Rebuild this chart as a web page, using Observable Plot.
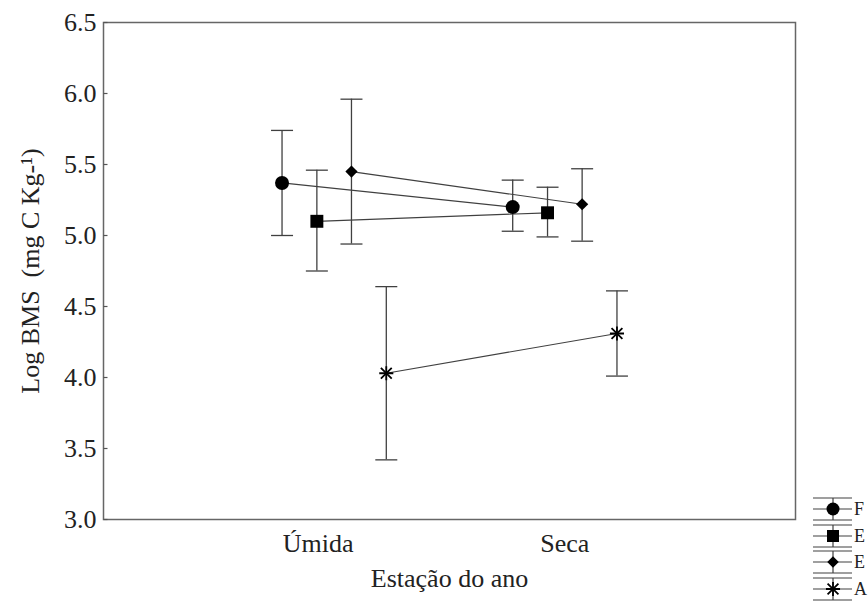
<!DOCTYPE html>
<html>
<head>
<meta charset="utf-8">
<script src="https://cdn.jsdelivr.net/npm/d3@7"></script>
<script src="https://cdn.jsdelivr.net/npm/@observablehq/plot@0.6"></script>
<style>
  html, body { margin: 0; padding: 0; background: #fff; overflow: hidden; }
  svg, svg text, svg g { font-family: "Liberation Serif", Tinos, "DejaVu Serif", serif !important; }
</style>
</head>
<body>
<div id="chart"></div>
<script>
// ---- data ----
const seasons = ["Úmida", "Seca"];
const seasonPos = [1, 2];
const seriesNames = ["F", "E", "E", "A"];
const seriesSymbols = ["circle", "square", "diamond", "asterisk"];
const dodge = [-0.226, -0.075, 0.075, 0.226];
const means = [[5.37, 5.20], [5.10, 5.16], [5.45, 5.22], [4.03, 4.31]];
const upper = [[5.74, 5.39], [5.46, 5.34], [5.96, 5.47], [4.64, 4.61]];
const lower = [[5.00, 5.03], [4.75, 4.99], [4.94, 4.96], [3.42, 4.01]];
const yTicks = [3.0, 3.5, 4.0, 4.5, 5.0, 5.5, 6.0, 6.5];
const xTitle = "Estação do ano";
const yTitle = "Log BMS  (mg C Kg-¹)";

const rows = [];
seriesNames.forEach((name, s) => {
  seasons.forEach((season, j) => {
    rows.push({series: s, name, season, x: seasonPos[j] + dodge[s],
      mean: means[s][j], lo: lower[s][j], hi: upper[s][j]});
  });
});

const lineColor = "#404040";
const capSymbol = {draw(ctx) { ctx.moveTo(-11, 0); ctx.lineTo(11, 0); }};
const tickSymbol = {draw(ctx) { ctx.moveTo(0, 0); ctx.lineTo(4, 0); }};
const bySeries = s => rows.filter(d => d.series === s);

const font = "'Liberation Serif', Tinos, 'DejaVu Serif', serif";
const txt = {fontFamily: font, fontSize: 26, fill: "#222"};

const chart = Plot.plot({
  width: 868,
  height: 601,
  marginLeft: 103,
  marginRight: 73,
  marginTop: 22,
  marginBottom: 82,
  style: {fontSize: "26px", color: "#222", background: "#fff"},
  x: {domain: [0, 3], axis: null},
  y: {domain: [3, 6.5], axis: null},
  marks: [
    Plot.frame({stroke: "#666", strokeWidth: 1.5}),
    Plot.dot(yTicks, {x: () => 0, y: d => d, symbol: tickSymbol, stroke: "#555", strokeWidth: 1.2, fill: "none"}),
    Plot.axisY(yTicks, {tickSize: 0, tickPadding: 7, tickFormat: d => d.toFixed(1), ...txt}),
    Plot.text([seasons[0]], {x: seasonPos[0], frameAnchor: "bottom", lineAnchor: "middle", dy: 24, dx: -16, ...txt}),
    Plot.text([seasons[1]], {x: seasonPos[1], frameAnchor: "bottom", lineAnchor: "middle", dy: 24, ...txt}),
    Plot.text([xTitle], {frameAnchor: "bottom", lineAnchor: "middle", dy: 59, ...txt}),
    Plot.text([yTitle], {frameAnchor: "left", textAnchor: "middle", rotate: -90, lineAnchor: "middle", dx: -73, ...txt}),
    // error bars
    Plot.ruleX(rows, {x: "x", y1: "lo", y2: "hi", stroke: lineColor, strokeWidth: 1.3}),
    Plot.dot(rows, {x: "x", y: "hi", symbol: capSymbol, stroke: lineColor, strokeWidth: 1.3, fill: "none"}),
    Plot.dot(rows, {x: "x", y: "lo", symbol: capSymbol, stroke: lineColor, strokeWidth: 1.3, fill: "none"}),
    // connecting lines
    Plot.line(rows, {x: "x", y: "mean", z: "series", stroke: lineColor, strokeWidth: 1.2}),
    // markers
    Plot.dot(bySeries(0), {x: "x", y: "mean", symbol: "circle", r: 7, fill: "#000", stroke: "none"}),
    Plot.dot(bySeries(1), {x: "x", y: "mean", symbol: "square", r: 7.3, fill: "#000", stroke: "none"}),
    Plot.dot(bySeries(2), {x: "x", y: "mean", symbol: "diamond2", r: 5.5, fill: "#000", stroke: "none"}),
    Plot.dot(bySeries(3), {x: "x", y: "mean", symbol: "plus", r: 4.6, fill: "none", stroke: "#000", strokeWidth: 1.8}),
    Plot.dot(bySeries(3), {x: "x", y: "mean", symbol: "times", r: 5, fill: "none", stroke: "#000", strokeWidth: 1.8})
  ]
});

// ---- legend (bottom right, partially cut off like the reference) ----
const svg = d3.select(chart);
const lg = svg.append("g").attr("class", "legend");
const rowY = [509, 536, 562, 589];
const lx = 833;
const symMap = {circle: d3.symbolCircle, square: d3.symbolSquare, diamond: d3.symbolDiamond2};
seriesNames.forEach((name, i) => {
  const y = rowY[i];
  [-11, 0, 11].forEach(o => {
    lg.append("line").attr("x1", 813).attr("x2", 852).attr("y1", y + o).attr("y2", y + o)
      .attr("stroke", lineColor).attr("stroke-width", 1.2);
  });
  lg.append("line").attr("x1", lx).attr("x2", lx).attr("y1", y - 11).attr("y2", y + 11)
    .attr("stroke", lineColor).attr("stroke-width", 1.2);
  const sym = seriesSymbols[i];
  if (sym === "asterisk") {
    lg.append("path").attr("transform", `translate(${lx},${y})`)
      .attr("d", d3.symbol(d3.symbolPlus, Math.PI * 4.6 * 4.6)())
      .attr("stroke", "#000").attr("stroke-width", 1.8).attr("fill", "none");
    lg.append("path").attr("transform", `translate(${lx},${y})`)
      .attr("d", d3.symbol(d3.symbolTimes, Math.PI * 5 * 5)())
      .attr("stroke", "#000").attr("stroke-width", 1.8).attr("fill", "none");
  } else {
    const r = sym === "circle" ? 6.5 : sym === "square" ? 6.8 : 5.2;
    lg.append("path").attr("transform", `translate(${lx},${y})`)
      .attr("d", d3.symbol(symMap[sym], Math.PI * r * r)())
      .attr("fill", "#000");
  }
  lg.append("text").attr("x", 854).attr("y", y).attr("dy", "0.35em")
    .attr("text-anchor", "start")
    .attr("font-size", 18).attr("fill", "#222")
    .text(name);
});

document.getElementById("chart").appendChild(chart);
</script>
</body>
</html>
